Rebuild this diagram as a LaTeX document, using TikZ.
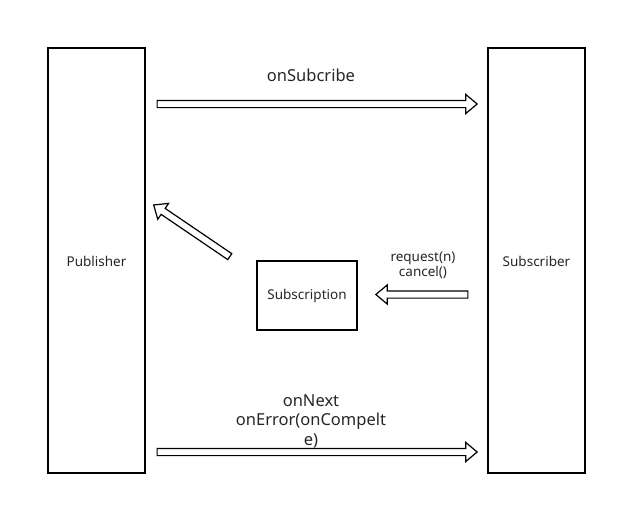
\documentclass[tikz,border=0pt]{standalone}
\usepackage{fontspec}
\setmainfont{Noto Sans}
\usetikzlibrary{shapes.arrows}

\tikzset{
  box/.style={draw, line width=1.2pt, inner sep=0pt},
  blockarrow/.style={single arrow, draw, line width=1.2pt, inner xsep=0pt, inner ysep=3pt,
    single arrow head extend=6pt, single arrow tip angle=80},
  small/.style={font=\fontsize{13.5}{16}\selectfont, text=black!85},
  big/.style={font=\fontsize{16.5}{19.5}\selectfont, text=black!85, align=center}
}

\begin{document}
\begin{tikzpicture}[x=1pt,y=-1pt]
    \useasboundingbox (0,0) rectangle (617,506);
    % the two sides
    \node[box, minimum width=97pt, minimum height=425pt] (pub) at (96.5,260.5) {};
    \node[small] (publbl) at (96.5,261) {Publisher};
    \node[box, minimum width=97pt, minimum height=425pt] (sub) at (536.5,260.5) {};
    \node[small] (sublbl) at (536.5,261) {Subscriber};
    \node[box, minimum width=100pt, minimum height=69pt] (subscr) at (307,295.5) {};
    \node[small] (subscrlbl) at (307,296) {Subscription};
    % arrows
    \node[blockarrow, minimum height=320pt] (onsub) at (315,104) {};
    \node[big] (onsublbl) at (311,75) {onSubcribe};
    \node[blockarrow, minimum height=92pt, rotate=145.8] (back) at (193.5,232) {};
    \node[blockarrow, minimum height=92pt, rotate=180] (req) at (424,294.5) {};
    \node[small, align=center, font=\fontsize{13.5}{15}\selectfont] (reqlbl) at (423,265) {request(n)\\cancel()};
    \node[blockarrow, minimum height=320pt] (next) at (315,452) {};
    \node[big] (nextlbl) at (311,421) {onNext\\onError(onCompelt\\e)};
\end{tikzpicture}
\end{document}
